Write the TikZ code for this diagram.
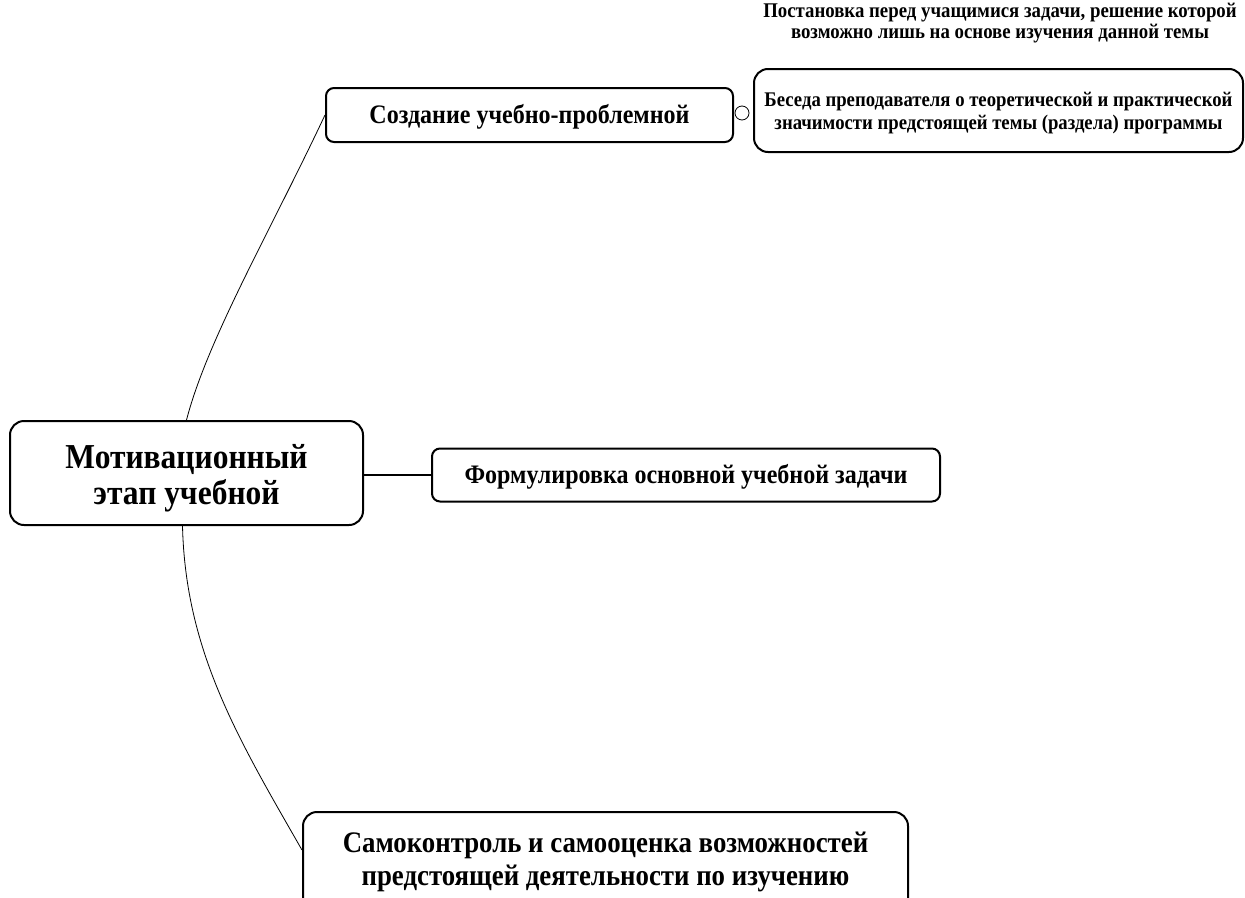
\documentclass[tikz,border=0pt]{standalone}
\usepackage{fontspec}
\setmainfont{Liberation Serif}[FakeStretch=0.9]
\usepackage{tikz}
\usetikzlibrary{shapes,positioning,calc}
\newcommand{\fsz}[2]{\fontsize{#1}{#2}\selectfont\bfseries}
\tikzset{
block/.style = {draw, fill=white, rectangle, rounded corners=14pt, line width=2pt, align=center},
small/.style = {draw, fill=white, rectangle, rounded corners=8pt, line width=2pt, align=center},
knob/.style = {draw, fill=white, circle, inner sep=0pt, minimum size=14pt, line width=0.8pt},
note/.style = {align=center},
link/.style = {line width=0.8pt, black}
}
\begin{document}
\begin{tikzpicture}[x=1pt, y=-1pt]
        \useasboundingbox (0,0) rectangle (1245,897);
        \node [block, minimum width=353pt, minimum height=104pt, font=\fsz{35}{36}, text height=62pt, text depth=0pt] (motiv) at (186.5,473)
            {Мотивационный\\ этап учебной};
        \node [small, minimum width=407pt, minimum height=54pt, font=\fsz{26.7}{28}, text height=17pt, text depth=0pt] (sozd) at (529.5,115)
            {Создание учебно-проблемной};
        \node [knob] (kn) at (742,113) {};
        \node [block, minimum width=489pt, minimum height=83pt, font=\fsz{20.8}{23}, text height=38pt, text depth=0pt] (beseda) at (998.5,110.5)
            {Беседа преподавателя о теоретической и практической\\ значимости предстоящей темы (раздела) программы};
        \node [note, font=\fsz{20.9}{20.5}] (post) at (1000,23)
            {Постановка перед учащимися задачи, решение которой\\ возможно лишь на основе изучения данной темы};
        \node [small, minimum width=508pt, minimum height=53pt, font=\fsz{26.7}{28}, text height=17pt, text depth=0pt] (form) at (686,475)
            {Формулировка основной учебной задачи};
        \node [block, minimum width=605pt, minimum height=100pt, font=\fsz{29.8}{33}] (samo) at (605.5,862)
            {Самоконтроль и самооценка возможностей\\ предстоящей деятельности по изучению};
        \draw [line width=2.2pt] (motiv.east |- form.west) -- (form.west);
        \draw [link] (motiv.north) .. controls +(21,-81) and +(-54,115) .. (sozd.west);
        \draw [link] ([xshift=-4pt]motiv.south) .. controls +(3,126) and +(-63,-110) .. ([yshift=12pt]samo.west);
\end{tikzpicture}
\end{document}
